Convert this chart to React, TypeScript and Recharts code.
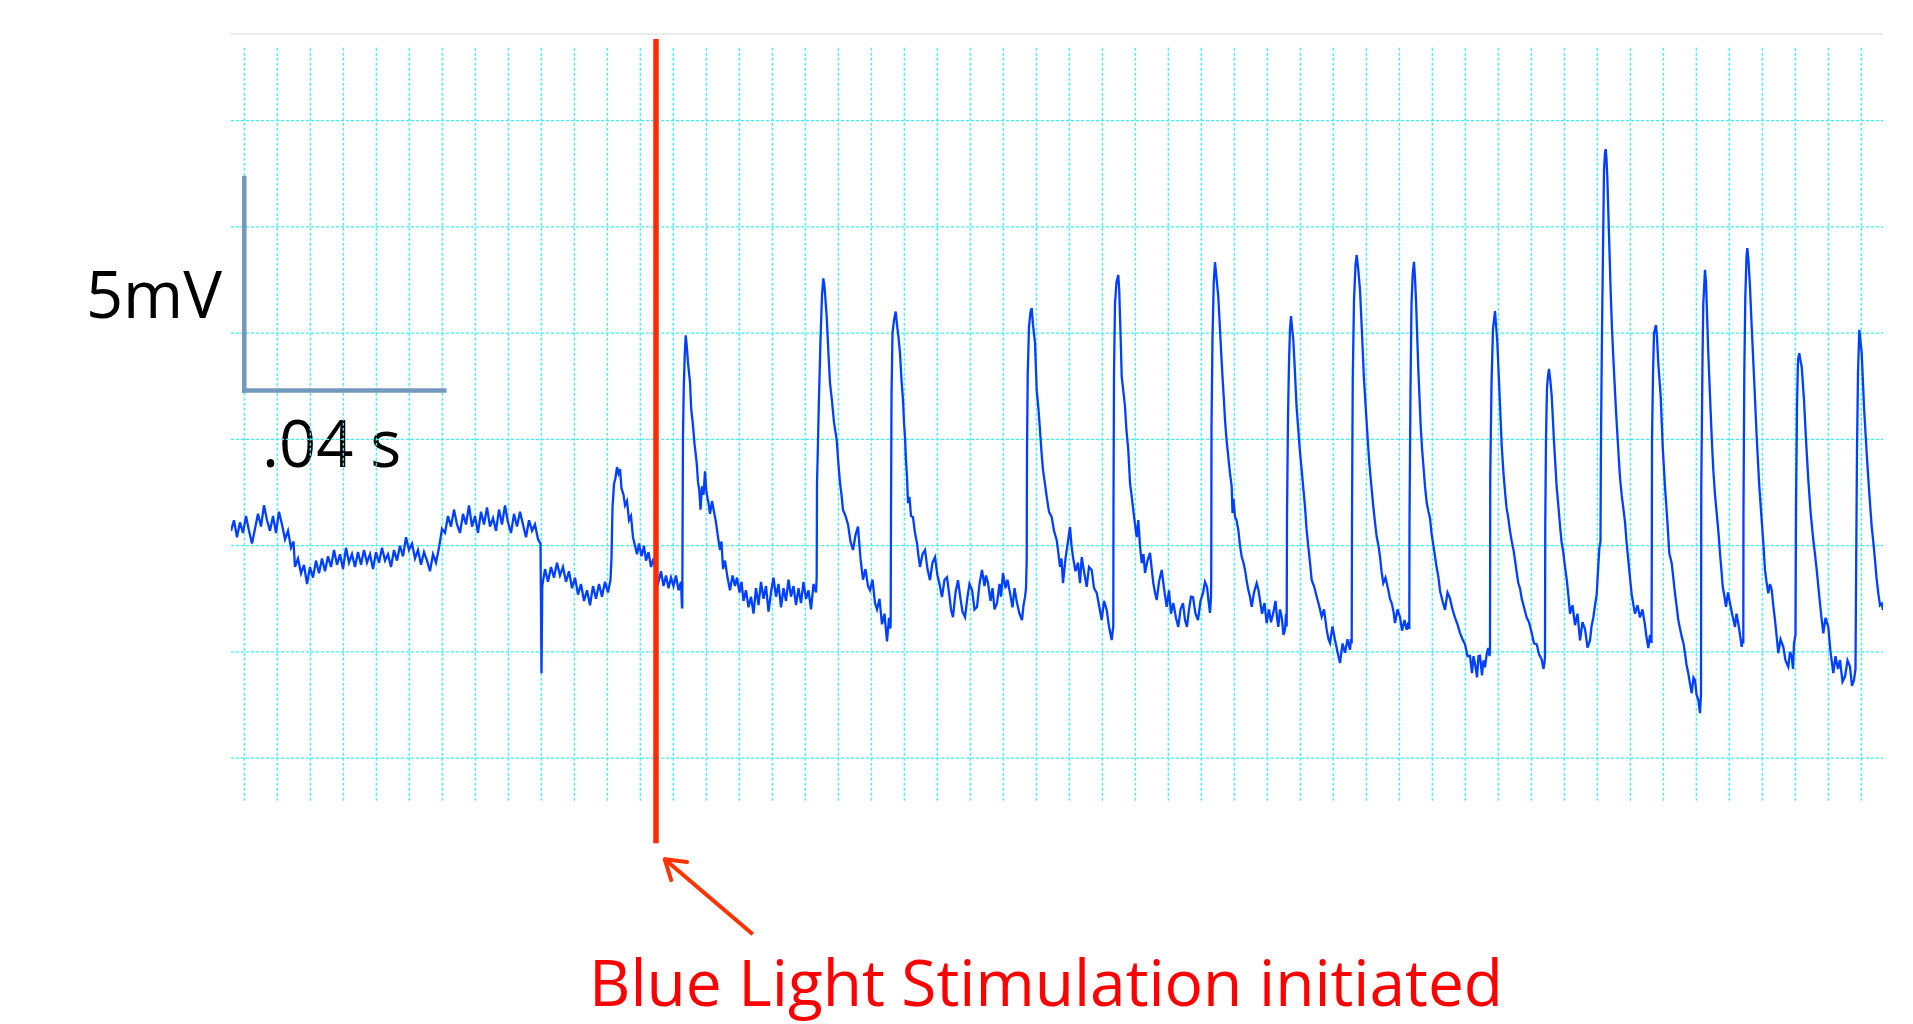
import { LineChart, Line, XAxis, YAxis, ReferenceLine, Customized } from 'recharts';

// membrane potential trace, [time ms, potential mV]
const PRE_STIM: [number, number][] = [
  [0, 0.35], [0.6, 0.6], [1.2, 0.2], [1.8, 0.55], [2.4, 0.3], [3, 0.7], [3.6, 0.35], [4.2, 0.05], [4.8, 0.4],
  [5.4, 0.75], [6, 0.45], [6.6, 0.95], [7.2, 0.6], [7.8, 0.35], [8.4, 0.7], [9, 0.3], [9.6, 0.8], [10.2, 0.5],
  [10.8, 0.15], [11.4, 0.35], [12, -0.05], [12.5, 0.1], [12.8, -0.5], [13.4, -0.3], [14, -0.65], [14.6, -0.45],
  [15.2, -0.9], [15.8, -0.5], [16.4, -0.75], [17, -0.35], [17.6, -0.65], [18.2, -0.3], [18.8, -0.6], [19.4, -0.25],
  [20, -0.5], [20.6, -0.1], [21.2, -0.45], [21.8, -0.2], [22.4, -0.55], [23, -0.05], [23.6, -0.4], [24.2, -0.2],
  [24.8, -0.5], [25.4, -0.15], [26, -0.45], [26.6, -0.1], [27.2, -0.4], [27.8, -0.2], [28.4, -0.55], [29, -0.15],
  [29.6, -0.4], [30.2, -0.05], [30.8, -0.35], [31.4, -0.2], [32, -0.5], [32.6, -0.1], [33.2, -0.35], [33.8, 0.0],
  [34.4, -0.25], [35, 0.2], [35.6, -0.1], [36.2, 0.05], [36.8, -0.3], [37.4, -0.1], [38, -0.45], [38.6, -0.15],
  [39.2, -0.35], [39.8, -0.6], [40.4, -0.2], [41, -0.4], [41.6, -0.05], [42.2, 0.4], [42.8, 0.3], [43.4, 0.7],
  [44, 0.45], [44.6, 0.85], [45.2, 0.5], [45.8, 0.3], [46.4, 0.75], [47, 0.5], [47.6, 0.95], [48.2, 0.45],
  [48.8, 0.7], [49.4, 0.3], [50, 0.8], [50.6, 0.5], [51.2, 0.9], [51.8, 0.45], [52.4, 0.65], [53, 0.35],
  [53.6, 0.85], [54.2, 0.5], [54.8, 0.95], [55.4, 0.55], [56, 0.3], [56.6, 0.75], [57.2, 0.45], [57.8, 0.8],
  [58.4, 0.5], [59, 0.2], [59.6, 0.6], [60.2, 0.35], [60.8, 0.5], [61.4, 0.15], [61.9, 0.05], [62.1, -3.0],
  [62.25, -0.95], [62.8, -0.55], [63.4, -0.85], [64, -0.5], [64.6, -0.75], [65.2, -0.4], [65.8, -0.7], [66.4, -0.5],
  [67, -0.85], [67.6, -0.6], [68.2, -1.0], [68.8, -0.75], [69.4, -1.15], [70, -0.9], [70.6, -1.3], [71.2, -1.05],
  [71.8, -1.4], [72.4, -0.95], [73, -1.25], [73.6, -0.9], [74.2, -1.2], [74.8, -0.85], [75.4, -1.1], [75.9, -0.8],
  [76.1, -0.3], [76.3, 0.9], [76.6, 1.45], [76.9, 1.6], [77.2, 1.85], [77.5, 1.7], [77.8, 1.8], [78.1, 1.35],
  [78.5, 1.2], [78.8, 0.95], [79.2, 1.05], [79.6, 0.6], [80, 0.7], [80.4, 0.2], [80.8, 0.0], [81.2, -0.2],
  [81.6, 0.05], [82.1, -0.25], [82.6, 0.0], [83, -0.35], [83.5, -0.15], [84, -0.5], [84.5, -0.3], [85, -0.65],
  [85.5, -0.85], [86, -0.6], [86.5, -0.95], [87, -0.7], [87.5, -1.0], [88, -0.75], [88.5, -0.95], [89, -0.7],
  [89.5, -1.05], [90, -0.85], [90.2, -1.45],
];

// spikes 1-6
const BURST_A: [number, number][] = [
  [90.26, -1.45], [90.3, 0.0], [90.4, 2.6], [90.55, 3.7], [90.75, 4.5], [90.94, 4.95], [91.15, 4.7], [91.4, 4.3],
  [91.8, 3.85], [92.05, 3.2], [92.34, 2.9], [92.7, 2.4], [93.14, 1.95], [93.4, 1.5], [93.66, 1.3], [93.9, 0.85],
  [94.2, 1.4], [94.5, 1.2], [94.8, 1.75], [95.1, 1.25], [95.5, 1.0], [95.8, 0.75], [96.2, 1.05], [96.6, 0.8],
  [97, 0.55], [97.4, 0.2], [97.8, -0.1], [98.1, 0.1], [98.4, -0.55], [98.8, -0.35], [99.3, -0.75], [99.8, -1.05],
  [100.3, -0.7], [100.8, -0.95], [101.2, -0.75], [101.7, -1.1], [102.1, -0.85], [102.5, -1.3], [103, -1.05],
  [103.5, -1.45], [104, -1.2], [104.5, -1.6], [105, -1.0], [105.5, -1.4], [106, -0.85], [106.5, -1.25], [107, -0.95],
  [107.5, -1.55], [108, -1.1], [108.5, -0.75], [109, -1.2], [109.5, -0.9], [110, -1.45], [110.5, -1.0], [111, -1.3],
  [111.5, -0.8], [112, -1.2], [112.5, -0.95], [113, -1.4], [113.5, -1.0], [114, -1.35], [114.5, -0.85], [115, -1.25],
  [115.5, -1.05], [116, -1.5], [116.5, -0.9], [117, -1.1],
  [117.14, -0.75], [117.2, 1.45], [117.35, 2.2], [117.6, 3.5], [117.9, 4.85], [118.2, 5.9], [118.46, 6.29],
  [118.7, 6.1], [119.14, 5.39], [119.5, 4.5], [119.8, 3.83], [120.2, 3.4], [120.6, 2.9], [121.14, 2.49], [121.5, 1.9],
  [121.8, 1.48], [122.1, 1.2], [122.4, 0.84], [122.9, 0.7], [123.4, 0.5], [123.9, 0.1], [124.4, -0.1], [124.9, 0.25],
  [125.4, 0.45], [125.9, -0.3], [126.4, -0.8], [126.9, -0.55], [127.4, -0.95], [127.8, -1.05], [128.3, -0.8],
  [128.8, -1.35], [129.2, -1.5], [129.7, -1.25], [130.2, -1.85], [130.7, -1.6], [131.2, -2.25], [131.6, -1.7],
  [131.9, -1.95],
  [131.94, -1.7], [132.0, 0.7], [132.1, 3.5], [132.3, 5.0], [132.6, 5.3], [132.94, 5.51], [133.2, 5.2], [133.5, 4.9],
  [133.8, 4.53], [134.1, 3.9], [134.4, 3.43], [134.6, 2.9], [134.8, 2.56], [135.0, 2.0], [135.2, 1.62], [135.4, 1.0],
  [135.7, 1.15], [136.0, 0.7], [136.4, 0.67], [136.8, 0.3], [137.2, 0.06], [137.5, -0.25], [137.8, -0.5],
  [138.3, -0.2], [138.8, -0.1], [139.3, -0.55], [139.8, -0.81], [140.3, -0.4], [140.8, -0.27], [141.3, -0.7],
  [141.7, -0.9], [142.2, -1.21], [142.7, -0.8], [143.2, -0.74], [143.7, -1.2], [144.0, -1.5], [144.4, -1.68],
  [144.9, -1.1], [145.4, -0.81], [145.9, -1.25], [146.3, -1.55], [146.8, -1.68], [147.3, -1.2], [147.7, -0.9],
  [148.2, -1.04], [148.7, -1.5], [149.2, -1.44], [149.7, -0.9], [150.2, -0.57], [150.7, -0.95], [151.0, -0.7],
  [151.4, -0.88], [151.9, -1.3], [152.3, -1.0], [152.7, -1.5], [153.2, -1.35], [153.7, -0.9], [154.0, -1.2],
  [154.4, -0.64], [154.9, -1.0], [155.3, -0.8], [155.8, -1.11], [156.3, -1.45], [156.7, -1.0], [157.2, -1.35],
  [157.7, -1.6], [158.2, -1.75], [158.5, -1.4], [158.8, -1.21], [159.0, -1.0],
  [159.14, -0.34], [159.2, 2.25], [159.35, 4.06], [159.6, 5.15], [159.9, 5.5], [160.14, 5.59], [160.4, 5.2],
  [160.8, 4.77], [161.14, 3.66], [161.5, 3.2], [161.8, 2.72], [162.1, 2.2], [162.4, 1.78], [162.8, 1.45],
  [163.14, 1.15], [163.6, 0.8], [164.14, 0.67], [164.6, 0.35], [165.14, 0.13], [165.5, -0.2], [165.8, -0.5],
  [166.1, -0.3], [166.4, -0.88], [166.9, -0.3], [167.4, 0.1], [167.8, 0.44], [168.1, 0.0], [168.4, -0.27],
  [168.9, -0.6], [169.4, -0.4], [169.8, -0.88], [170.14, -0.27], [170.6, -0.6], [171.14, -0.97], [171.6, -0.5],
  [172.14, -0.57], [172.6, -1.0], [173.14, -1.11], [173.6, -1.4], [174.14, -1.75], [174.6, -1.3], [175.14, -1.51],
  [175.6, -1.9], [176.14, -2.22], [176.4, -1.95],
  [176.46, -1.9], [176.5, 1.0], [176.6, 4.06], [176.8, 5.7], [177.1, 6.2], [177.46, 6.37], [177.65, 6.0],
  [177.8, 5.39], [178.0, 4.6], [178.14, 3.98], [178.5, 3.6], [178.8, 3.27], [179.1, 2.7], [179.46, 2.25],
  [179.8, 1.48], [180.1, 1.2], [180.46, 0.84], [180.8, 0.5], [181.14, 0.2], [181.46, 0.6], [181.8, 0.0],
  [182.14, -0.41], [182.5, -0.2], [182.8, -0.64], [183.3, -0.35], [183.8, -0.17], [184.1, -0.5], [184.46, -0.88],
  [184.8, -1.1], [185.14, -1.28], [185.6, -0.85], [186.14, -0.57], [186.6, -1.0], [187.14, -1.44], [187.6, -1.05],
  [188.0, -1.6], [188.46, -1.35], [189.0, -1.7], [189.46, -1.91], [189.9, -1.5], [190.4, -1.35], [190.8, -1.75],
  [191.2, -1.91], [191.6, -1.5], [192.0, -1.2], [192.4, -1.21], [192.9, -1.6], [193.4, -1.75], [193.9, -1.3],
  [194.4, -1.11], [194.8, -0.85], [195.2, -0.97], [195.5, -1.3], [195.8, -1.58],
  [196.0, -1.2], [196.05, -0.75], [196.1, 2.8], [196.3, 4.9], [196.55, 6.2], [196.8, 6.67], [197.1, 6.3],
  [197.46, 5.86], [197.8, 5.08], [198.1, 4.4], [198.34, 3.9], [198.6, 3.4], [198.8, 2.96], [199.1, 2.5],
  [199.46, 2.09], [199.8, 1.7], [200.14, 1.39], [200.3, 0.77], [200.5, 1.1], [200.8, 0.68], [201.1, 0.6],
  [201.46, 0.37], [201.8, 0.0], [202.14, -0.26], [202.5, -0.4], [202.8, -0.57], [203.1, -0.8], [203.46, -1.04],
  [203.8, -1.2], [204.14, -1.44], [204.6, -1.1], [205.14, -0.88], [205.5, -1.05], [205.8, -1.28], [206.2, -1.6],
  [206.7, -1.35], [207.14, -1.82], [207.6, -1.5], [208.0, -1.8], [208.46, -1.58], [208.9, -1.3], [209.2, -1.7],
  [209.46, -1.91], [209.8, -1.5], [210.14, -1.68], [210.5, -2.1], [210.8, -1.98], [211.0, -1.6],
];

// spikes 7-12
const BURST_B: [number, number][] = [
  [211.14, -1.9], [211.2, 0.68], [211.4, 3.03], [211.6, 4.3], [211.8, 5.1], [212.0, 5.4], [212.2, 5.15],
  [212.46, 4.84], [212.8, 4.06], [213.1, 3.3], [213.46, 2.72], [213.8, 2.2], [214.14, 1.78], [214.5, 1.3],
  [214.8, 0.92], [215.1, 0.4], [215.46, -0.02], [215.8, -0.4], [216.14, -0.81], [216.6, -0.95], [217.14, -1.2],
  [217.6, -1.4], [218.14, -1.67], [218.6, -1.5], [219.14, -1.98], [219.5, -2.2], [219.8, -2.29], [220.3, -1.9],
  [220.8, -2.22], [221.3, -2.5], [221.8, -2.76], [222.3, -2.3], [222.8, -2.52], [223.3, -2.2], [223.8, -2.45],
  [224.0, -2.2],
  [224.14, -2.3], [224.2, 0.68], [224.35, 3.9], [224.6, 5.78], [224.9, 6.6], [225.14, 6.84], [225.45, 6.5],
  [225.8, 6.02], [226.14, 5.15], [226.6, 3.9], [227.14, 2.89], [227.4, 2.4], [227.66, 1.95], [228.0, 1.5],
  [228.46, 0.92], [228.8, 0.55], [229.14, 0.21], [229.5, 0.0], [229.8, -0.26], [230.1, -0.6], [230.46, -0.88],
  [230.9, -0.75], [231.46, -1.04], [231.8, -1.25], [232.14, -1.35], [232.5, -1.55], [232.8, -1.82], [233.3, -1.5],
  [233.8, -1.68], [234.2, -2.0], [234.7, -1.75], [235.14, -1.98], [235.5, -1.8],
  [235.66, -1.96], [235.7, 0.56], [235.9, 3.71], [236.1, 5.69], [236.35, 6.4], [236.6, 6.68], [236.8, 6.3],
  [237.0, 5.78], [237.46, 4.16], [237.94, 2.81], [238.2, 2.3], [238.46, 1.91], [238.8, 1.4], [239.14, 1.01],
  [239.5, 0.8], [239.8, 0.65], [240.1, 0.3], [240.46, 0.02], [240.8, -0.25], [241.14, -0.52], [241.5, -0.75],
  [241.8, -1.06], [242.3, -1.3], [242.8, -1.51], [243.3, -1.1], [243.8, -1.24], [244.3, -1.5], [244.8, -1.69],
  [245.3, -1.85], [245.8, -2.05], [246.3, -2.2], [246.8, -2.32], [247.3, -2.6], [247.8, -2.59], [248.2, -3.0],
  [248.5, -2.6], [248.8, -2.77], [249.2, -3.1], [249.5, -2.6], [249.8, -2.59], [250.2, -3.05], [250.5, -2.7],
  [250.8, -2.86], [251.2, -2.5], [251.46, -2.41], [251.7, -2.6],
  [251.8, -2.5], [251.85, 1.64], [252.1, 3.8], [252.4, 5.1], [252.8, 5.52], [253.0, 5.2], [253.26, 4.79],
  [253.66, 3.71], [254.14, 2.36], [254.5, 1.7], [254.8, 1.28], [255.1, 0.9], [255.46, 0.65], [255.8, 0.35],
  [256.14, 0.11], [256.5, -0.1], [256.8, -0.34], [257.1, -0.6], [257.46, -0.88], [257.8, -1.0], [258.14, -1.24],
  [258.6, -1.45], [259.14, -1.69], [259.6, -1.8], [260.14, -2.05], [260.6, -2.3], [261.14, -2.32], [261.6, -2.55],
  [262.14, -2.68], [262.5, -2.9], [262.7, -2.75],
  [262.8, -2.6], [262.85, 0.47], [263.0, 2.54], [263.2, 3.71], [263.4, 4.0], [263.6, 4.16], [263.85, 3.9],
  [264.14, 3.53], [264.6, 2.45], [265.14, 1.37], [265.5, 0.9], [265.8, 0.47], [266.1, 0.1], [266.46, -0.16],
  [266.8, -0.5], [267.14, -0.79], [267.5, -1.2], [267.8, -1.6], [268.3, -1.4], [268.8, -1.87], [269.3, -1.6],
  [269.8, -2.23], [270.3, -1.8], [270.8, -1.96], [271.3, -2.4], [271.8, -2.23], [272.1, -1.9], [272.46, -1.69],
  [272.8, -1.4], [273.14, -1.15], [273.4, -0.6], [273.66, -0.07], [273.9, 0.1],
  [274.0, 2.54], [274.2, 5.06], [274.46, 7.5], [274.6, 8.84], [274.8, 9.25], [274.94, 9.33], [275.1, 9.1],
  [275.26, 8.67], [275.6, 7.32], [275.94, 5.96], [276.2, 5.1], [276.46, 4.43], [277.0, 3.17], [277.54, 2.09],
  [277.8, 1.6], [278.14, 1.19], [278.5, 0.85], [278.8, 0.56], [279.1, 0.1], [279.46, -0.34], [279.8, -0.75],
  [280.14, -1.15], [280.5, -1.4], [280.8, -1.6], [281.3, -1.4], [281.8, -1.69], [282.3, -1.5], [282.8, -1.87],
  [283.1, -2.15], [283.46, -2.41], [283.8, -2.1],
];

// spikes 13-17
const BURST_C: [number, number][] = [
  [284.1, -2.29], [284.15, -0.64], [284.2, 2.49], [284.4, 4.02], [284.6, 5.0], [285.0, 5.19], [285.2, 4.9],
  [285.46, 4.29], [285.94, 3.51], [286.34, 2.33], [286.8, 1.39], [287.26, 0.6], [287.66, -0.18], [288.14, -0.41],
  [288.5, -0.8], [288.8, -1.12], [289.1, -1.4], [289.46, -1.75], [289.8, -1.95], [290.14, -2.14], [290.5, -2.3],
  [290.8, -2.53], [291.1, -2.8], [291.46, -3.0], [291.8, -3.25], [292.14, -3.47], [292.5, -3.1], [292.8, -3.16],
  [293.1, -3.5], [293.46, -3.63], [293.8, -3.94],
  [294.0, -3.5], [294.05, 1.31], [294.3, 4.37], [294.46, 5.7], [294.8, 6.49], [295.0, 6.2], [295.14, 5.7],
  [295.46, 4.53], [295.94, 3.12], [296.2, 2.4], [296.46, 1.78], [296.8, 1.2], [297.14, 0.76], [297.5, 0.3],
  [297.8, -0.18], [298.1, -0.6], [298.34, -0.96], [298.7, -1.2], [299.0, -1.44], [299.4, -1.1], [299.8, -1.36],
  [300.3, -1.65], [300.8, -1.91], [301.1, -1.6], [301.46, -1.83], [301.8, -2.1], [302.14, -2.38], [302.3, -2.2],
  [302.46, -2.3], [302.5, 0.84], [302.66, 4.06], [302.86, 5.85], [303.1, 6.8], [303.26, 7.0], [303.5, 6.7],
  [303.8, 6.09], [304.14, 5.15], [304.6, 3.98], [305.14, 2.56], [305.66, 1.39], [306.14, 0.6], [306.5, 0.0],
  [306.8, -0.57], [307.1, -0.85], [307.46, -1.12], [307.8, -0.9], [308.14, -1.04], [308.5, -1.45], [308.8, -1.75],
  [309.1, -2.1], [309.46, -2.53], [309.9, -2.2], [310.46, -2.38], [310.9, -2.7], [311.46, -2.85], [311.8, -2.5],
  [312.14, -2.61], [312.4, -2.9], [312.6, -2.3], [312.9, -2.1],
  [313.0, 0.84], [313.2, 3.27], [313.4, 4.37], [313.66, 4.53], [313.9, 4.35], [314.14, 4.21], [314.6, 3.43],
  [315.0, 2.49], [315.46, 1.55], [315.94, 0.76], [316.46, 0.13], [316.8, -0.2], [317.14, -0.57], [317.5, -1.0],
  [317.8, -1.36], [318.1, -1.7], [318.46, -2.06], [318.9, -1.7], [319.46, -1.91], [319.9, -2.5], [320.46, -3.0],
  [320.9, -2.6], [321.4, -2.9], [321.8, -2.69], [322.3, -3.2], [322.8, -3.08], [323.3, -2.7], [323.8, -2.85],
  [324.2, -3.3], [324.6, -3.16], [324.9, -2.9],
  [325.0, -1.0], [325.2, 2.25], [325.4, 4.06], [325.66, 5.08], [325.9, 4.8], [326.14, 4.53], [326.6, 3.27],
  [327.14, 2.17], [327.66, 1.23], [328.14, 0.45], [328.5, 0.05], [328.8, -0.34], [329.1, -0.75], [329.46, -1.12],
  [329.8, -1.4], [330.14, -1.36], [330.4, -1.51],
];

const H_GRID_MV = [-5, -2.5, 0, 2.5, 5, 7.5, 10];
const V_GRID_FIRST_MS = 2.66;
const V_GRID_STEP_MS = 6.6;
const V_GRID_COUNT = 50;
const STIM_ONSET_MS = 85;
const SCALE_BAR = { t: 2.66, v: 3.65, dt: 40, dv: 5 };

const data = [...PRE_STIM, ...BURST_A, ...BURST_B, ...BURST_C].map(([t, v]) => ({ t, v }));
const vGrid = Array.from({ length: V_GRID_COUNT }, (_, i) => V_GRID_FIRST_MS + i * V_GRID_STEP_MS);

const GRID = '#33f6f6';
const RED = '#ff2a00';
const ARROW = '#ff3300';
const BAR = '#7398bf';

const Labels = () => (
  <g style={{ fontFamily: "'Open Sans', sans-serif" }}>
    <text x={222} y={318} fontSize={65} textAnchor="end" fill="#000">5mV</text>
    <text x={262} y={467} fontSize={65} fill="#000">.04 s</text>
    <text x={1046} y={1006} fontSize={64} textAnchor="middle" fill="#ff0000">
      Blue Light Stimulation initiated
    </text>
  </g>
);

export default function App() {
  return (
    <div style={{ position: 'absolute', left: 0, top: 0, width: 1913, height: 1024, background: '#fff' }}>
      <LineChart width={1913} height={1024} data={data} margin={{ top: 35.7, right: 30, bottom: 223.3, left: 231 }}>
        <XAxis dataKey="t" type="number" domain={[0, 330.4]} allowDataOverflow hide />
        <YAxis type="number" domain={[-6, 12]} allowDataOverflow hide />

        <ReferenceLine y={12.04} stroke="#ebebeb" strokeWidth={2} ifOverflow="visible" />
        {H_GRID_MV.map((v) => (
          <ReferenceLine key={'h' + v} y={v} stroke={GRID} strokeWidth={1.3} strokeDasharray="3 2" />
        ))}
        {vGrid.map((t) => (
          <ReferenceLine
            key={'v' + t}
            segment={[{ x: t, y: -6 }, { x: t, y: 11.73 }]}
            stroke={GRID}
            strokeWidth={1.3}
            strokeDasharray="3 2"
          />
        ))}

        {/* scale bar */}
        <ReferenceLine
          segment={[{ x: SCALE_BAR.t, y: SCALE_BAR.v }, { x: SCALE_BAR.t, y: SCALE_BAR.v + SCALE_BAR.dv }]}
          stroke={BAR}
          strokeWidth={4.5}
          strokeLinecap="square"
          ifOverflow="visible"
        />
        <ReferenceLine
          segment={[{ x: SCALE_BAR.t, y: SCALE_BAR.v }, { x: SCALE_BAR.t + SCALE_BAR.dt, y: SCALE_BAR.v }]}
          stroke={BAR}
          strokeWidth={4.5}
          strokeLinecap="square"
          ifOverflow="visible"
        />

        <Line
          type="linear"
          dataKey="v"
          stroke="#0040ff"
          strokeWidth={2.3}
          strokeLinejoin="miter"
          dot={false}
          activeDot={false}
          isAnimationActive={false}
        />

        {/* stimulation marker and arrow */}
        <ReferenceLine
          segment={[{ x: STIM_ONSET_MS, y: 11.92 }, { x: STIM_ONSET_MS, y: -7.0 }]}
          stroke={RED}
          strokeWidth={5.5}
          ifOverflow="visible"
        />
        <ReferenceLine segment={[{ x: 104.36, y: -9.14 }, { x: 86.76, y: -7.38 }]} stroke={ARROW} strokeWidth={4} ifOverflow="visible" />
        <ReferenceLine segment={[{ x: 86.76, y: -7.38 }, { x: 91.22, y: -7.44 }]} stroke={ARROW} strokeWidth={4} strokeLinecap="round" ifOverflow="visible" />
        <ReferenceLine segment={[{ x: 86.76, y: -7.38 }, { x: 88.04, y: -7.87 }]} stroke={ARROW} strokeWidth={4} strokeLinecap="round" ifOverflow="visible" />

        <Customized component={Labels} />
      </LineChart>
    </div>
  );
}
